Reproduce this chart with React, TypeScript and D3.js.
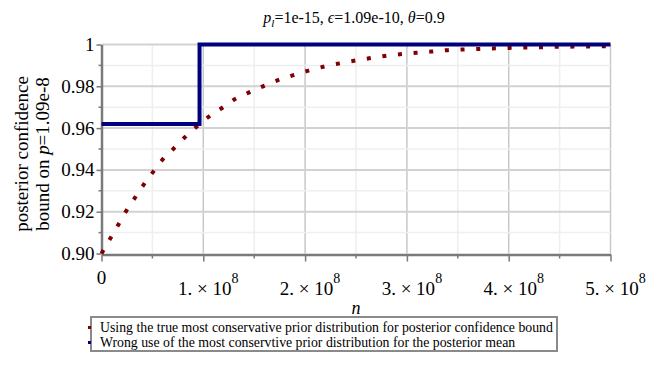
import React, { useRef, useEffect } from 'react';
import * as d3 from 'd3';

// posterior confidence bound, true most conservative prior
const confN = [0, 0.083e8, 0.162e8, 0.237e8, 0.323e8, 0.408e8, 0.5e8, 0.594e8, 0.706e8, 0.814e8,
  0.928e8, 1.046e8, 1.18e8, 1.3e8, 1.446e8, 1.586e8, 1.727e8, 1.878e8, 2.025e8, 2.2e8, 2.4e8,
  2.63e8, 2.85e8, 3.09e8, 3.24e8, 3.4e8, 3.55e8, 3.71e8, 3.87e8, 4.02e8, 4.18e8, 4.33e8,
  4.48e8, 4.64e8, 4.79e8, 4.95e8, 5e8];
const confValue = [0.9, 0.9069, 0.9135, 0.9199, 0.9263, 0.9325, 0.9386, 0.9446, 0.9501, 0.9554,
  0.9604, 0.9652, 0.9695, 0.9736, 0.977, 0.98, 0.9828, 0.9852, 0.9874, 0.9896, 0.9915,
  0.9934, 0.9949, 0.996, 0.9966, 0.9973, 0.9976, 0.9979, 0.9982, 0.9984, 0.9986, 0.9987,
  0.9989, 0.999, 0.9991, 0.9992, 0.9993];

// wrong use of prior for posterior mean (step)
const meanN = [0, 0.963e8, 5e8];
const meanValue = [0.962, 1, 1];

const yTickValues = [0.9, 0.92, 0.94, 0.96, 0.98, 1];
const yTickLabels = ['0.90', '0.92', '0.94', '0.96', '0.98', '1'];
const xTickValues = [0, 1e8, 2e8, 3e8, 4e8, 5e8];
const xTickMantissa = ['0', '1.', '2.', '3.', '4.', '5.'];

const legendLabels = [
  'Using the true most conservative prior distribution for posterior confidence bound',
  'Wrong use of the most conservtive prior distribution for the posterior mean',
];

const RED = '#7f0000';
const BLUE = '#00007f';
const FONT = 'Liberation Serif, DejaVu Serif, serif';

const App = () => {
  const ref = useRef(null);

  useEffect(() => {
    const svg = d3.select(ref.current);
    svg.selectAll('*').remove();

    const width = 650;
    const height = 368;
    const x = d3.scaleLinear().domain([0, 5e8]).range([101.5, 610.5]);
    const y = d3.scaleLinear().domain([0.9, 1]).range([253.5, 44.5]);

    svg.append('rect').attr('width', width).attr('height', height).attr('fill', '#fff');

    // grid
    const grid = svg.append('g');
    grid.selectAll('.vminor').data(d3.range(0.5e8, 5e8, 1e8)).join('line')
      .attr('x1', d => x(d)).attr('x2', d => x(d)).attr('y1', y(1)).attr('y2', y(0.9))
      .attr('stroke', '#eeeeee').attr('stroke-width', 1.5);
    grid.selectAll('.vmajor').data(xTickValues.slice(1)).join('line')
      .attr('x1', d => x(d)).attr('x2', d => x(d)).attr('y1', y(1)).attr('y2', y(0.9))
      .attr('stroke', '#c8c8c8').attr('stroke-width', 1.5);
    grid.selectAll('.hminor').data(d3.range(0.91, 1, 0.02)).join('line')
      .attr('x1', x(0)).attr('x2', x(5e8)).attr('y1', d => y(d)).attr('y2', d => y(d))
      .attr('stroke', '#efefef').attr('stroke-width', 1.5);
    grid.selectAll('.hmajor').data(yTickValues.slice(1)).join('line')
      .attr('x1', x(0)).attr('x2', x(5e8)).attr('y1', d => y(d)).attr('y2', d => y(d))
      .attr('stroke', '#d2d2d2').attr('stroke-width', 2);

    // axes
    const axisColor = '#7a7a7a';
    const xAxis = svg.append('g')
      .attr('transform', `translate(0,${y(0.9) + 1})`)
      .call(d3.axisBottom(x).tickValues(xTickValues).tickFormat(() => '').tickSize(7).tickSizeOuter(0));
    xAxis.append('g').selectAll('line').data(d3.range(0.5e8, 5e8, 1e8)).join('line')
      .attr('x1', d => x(d)).attr('x2', d => x(d)).attr('y1', 0).attr('y2', 4);
    xAxis.selectAll('line').attr('stroke', axisColor).attr('stroke-width', 1.5);
    xAxis.select('.domain').attr('stroke', axisColor).attr('stroke-width', 2.5);

    const yAxis = svg.append('g')
      .attr('transform', `translate(${x(0)},0)`)
      .call(d3.axisLeft(y).tickValues(yTickValues).tickFormat(() => '').tickSize(5).tickSizeOuter(0));
    yAxis.append('g').selectAll('line').data(d3.range(0.91, 1, 0.02)).join('line')
      .attr('y1', d => y(d)).attr('y2', d => y(d)).attr('x1', 0).attr('x2', -3);
    yAxis.selectAll('line').attr('stroke', axisColor).attr('stroke-width', 1.5);
    yAxis.select('.domain').attr('stroke', axisColor).attr('stroke-width', 2.5);

    // y tick labels
    svg.append('g').selectAll('text').data(yTickValues).join('text')
      .attr('x', x(0) - 7).attr('y', d => y(d) + 6.5)
      .attr('text-anchor', 'end')
      .attr('font-family', FONT).attr('font-size', 19)
      .text((d, i) => yTickLabels[i]);

    // x tick labels
    const xl = svg.append('g');
    xTickValues.forEach((v, i) => {
      if (i === 0) {
        xl.append('text').attr('x', x(v)).attr('y', 284).attr('text-anchor', 'middle')
          .attr('font-family', FONT).attr('font-size', 19).text(xTickMantissa[i]);
      } else {
        const t = xl.append('text').attr('x', x(v) + 5).attr('y', 295).attr('text-anchor', 'middle')
          .attr('font-family', FONT).attr('font-size', 19);
        t.append('tspan').text(`${xTickMantissa[i]} × 10`);
        t.append('tspan').attr('dy', -12).attr('font-size', 14).text('8');
      }
    });

    // x axis title
    svg.append('text').attr('x', 356).attr('y', 314).attr('text-anchor', 'middle')
      .attr('font-family', FONT).attr('font-size', 18).attr('font-style', 'italic').text('n');

    // y axis title
    const yt = svg.append('g').attr('transform', 'translate(0,154) rotate(-90)');
    yt.append('text').attr('x', 0).attr('y', 28).attr('text-anchor', 'middle')
      .attr('font-family', FONT).attr('font-size', 19).text('posterior confidence');
    const yt2 = yt.append('text').attr('x', 0).attr('y', 49).attr('text-anchor', 'middle')
      .attr('font-family', FONT).attr('font-size', 19);
    yt2.append('tspan').text('bound on ');
    yt2.append('tspan').attr('font-style', 'italic').text('p');
    yt2.append('tspan').text('=1.09e-8');

    // title
    const title = svg.append('text').attr('x', 354).attr('y', 23).attr('text-anchor', 'middle')
      .attr('font-family', FONT).attr('font-size', 16);
    title.append('tspan').attr('font-style', 'italic').text('p');
    title.append('tspan').attr('dy', 4).attr('font-style', 'italic').attr('font-size', 11).text('l');
    title.append('tspan').attr('dy', -4).text('=1e-15, ');
    title.append('tspan').attr('font-style', 'italic').text('ϵ');
    title.append('tspan').text('=1.09e-10, ');
    title.append('tspan').attr('font-style', 'italic').text('θ');
    title.append('tspan').text('=0.9');

    // series
    const confLine = d3.line()
      .x((d, i) => x(confN[i]))
      .y(d => y(d))
      .curve(d3.curveMonotoneX);
    svg.append('path').datum(confValue)
      .attr('fill', 'none').attr('stroke', RED).attr('stroke-width', 4)
      .attr('stroke-dasharray', '4 11.7')
      .attr('d', confLine);

    const meanLine = d3.line()
      .x((d, i) => x(meanN[i]))
      .y(d => y(d))
      .curve(d3.curveStepAfter);
    svg.append('path').datum(meanValue)
      .attr('fill', 'none').attr('stroke', BLUE).attr('stroke-width', 4)
      .attr('d', meanLine);

    // legend
    const legend = svg.append('g');
    legend.append('rect').attr('x', 91).attr('y', 317).attr('width', 466).attr('height', 34)
      .attr('fill', '#fff').attr('stroke', '#8a8a8a').attr('stroke-width', 2);
    [RED, BLUE].forEach((c, i) => {
      legend.append('rect').attr('x', 88).attr('y', 326 + i * 15).attr('width', 3).attr('height', 3)
        .attr('fill', c);
      legend.append('text').attr('x', 100).attr('y', 332 + i * 15)
        .attr('font-family', FONT).attr('font-size', 13.8).text(legendLabels[i]);
    });
  }, []);

  return (
    <svg ref={ref} width="650" height="368"
      style={{ position: 'absolute', left: 0, top: 0, display: 'block' }} />
  );
};

export default App;
